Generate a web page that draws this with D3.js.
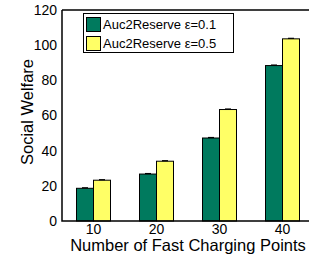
<!DOCTYPE html>
<html>
<head>
<meta charset="utf-8">
<script src="https://cdn.jsdelivr.net/npm/d3@7"></script>
<style>
  body { margin: 0; background: #fff; }
  svg { display: block; font-family: "Liberation Sans", Arial, sans-serif; }
</style>
</head>
<body>
<div id="chart"></div>
<script>
// chart values
var categories = ['10', '20', '30', '40'];
var seriesNames = ['Auc2Reserve \u03b5=0.1', 'Auc2Reserve \u03b5=0.5'];
var eps01 = [18.6, 26.7, 47.2, 88.4];
var eps05 = [23.2, 34.0, 63.4, 103.6];
var yTicks = [0, 20, 40, 60, 80, 100, 120];
var colours = ['#007a5e', '#ffff66'];

var width = 309, height = 258;
var plotLeft = 62, plotTop = 10, plotBottom = 221, plotRight = 314;

var svg = d3.select('#chart').append('svg')
  .attr('width', width)
  .attr('height', height);

// x: groups spaced like matlab xlim [5, 45]
var x = d3.scaleBand()
  .domain(categories)
  .range([plotLeft, plotRight])
  .padding(0);

var xs = d3.scaleBand()
  .domain([0, 1])
  .range([x.bandwidth() / 2 - 17, x.bandwidth() / 2 + 17]);

var y = d3.scaleLinear()
  .domain([0, 120])
  .range([plotBottom, plotTop]);

var rows = categories.map(function(c, i) { return { cat: c, vals: [eps01[i], eps05[i]] }; });

var groups = svg.selectAll('.grp')
  .data(rows)
  .enter()
  .append('g')
  .attr('class', 'grp')
  .attr('transform', function(d) { return 'translate(' + x(d.cat) + ',0)'; });

groups.selectAll('rect')
  .data(function(d) { return d.vals; })
  .enter()
  .append('rect')
  .attr('x', function(d, i) { return xs(i); })
  .attr('width', xs.bandwidth())
  .attr('y', function(d) { return y(d); })
  .attr('height', function(d) { return plotBottom - y(d); })
  .attr('fill', function(d, i) { return colours[i]; })
  .attr('stroke', '#000')
  .attr('stroke-width', 1);

// little error caps on top
groups.selectAll('line.err')
  .data(function(d) { return d.vals; })
  .enter()
  .append('line')
  .attr('class', 'err')
  .attr('x1', function(d, i) { return xs(i) + xs.bandwidth() / 2 - 3; })
  .attr('x2', function(d, i) { return xs(i) + xs.bandwidth() / 2 + 3; })
  .attr('y1', function(d) { return y(d) - 0.5; })
  .attr('y2', function(d) { return y(d) - 0.5; })
  .attr('stroke', '#000')
  .attr('stroke-width', 1.2);

// axes frame
svg.append('path')
  .attr('d', 'M' + plotLeft + ',' + plotTop + 'V' + plotBottom + 'H' + plotRight + 'M' + plotLeft + ',' + plotTop + 'H' + plotRight)
  .attr('fill', 'none')
  .attr('stroke', '#000')
  .attr('stroke-width', 1.5);

// y axis
var yAxis = svg.append('g')
  .attr('transform', 'translate(' + plotLeft + ',0)')
  .call(d3.axisLeft(y).tickValues(yTicks).tickSize(0).tickPadding(5));
yAxis.select('.domain').remove();
yAxis.selectAll('text').style('font-size', '14px').attr('fill', '#000');

// x axis
var xAxis = svg.append('g')
  .attr('transform', 'translate(0,' + plotBottom + ')')
  .call(d3.axisBottom(x).tickSize(0).tickPadding(3));
xAxis.select('.domain').remove();
xAxis.selectAll('text').style('font-size', '14px').attr('fill', '#000');

svg.append('text')
  .attr('x', 188)
  .attr('y', 251)
  .attr('text-anchor', 'middle')
  .style('font-size', '16.5px')
  .text('Number of Fast Charging Points');

svg.append('text')
  .attr('transform', 'translate(33,112) rotate(-90)')
  .attr('text-anchor', 'middle')
  .style('font-size', '16.5px')
  .text('Social Welfare');

// legend
var legend = svg.append('g');
legend.append('rect')
  .attr('x', 83.5).attr('y', 13.5)
  .attr('width', 150).attr('height', 39)
  .attr('fill', '#fff').attr('stroke', '#000').attr('stroke-width', 1);

seriesNames.forEach(function(name, i) {
  legend.append('rect')
    .attr('x', 86.5).attr('y', 17.5 + i * 19)
    .attr('width', 14).attr('height', 14)
    .attr('fill', colours[i]).attr('stroke', '#000');
  legend.append('text')
    .attr('x', 103).attr('y', 29 + i * 19)
    .style('font-size', '13px')
    .text(name);
});
</script>
</body>
</html>
